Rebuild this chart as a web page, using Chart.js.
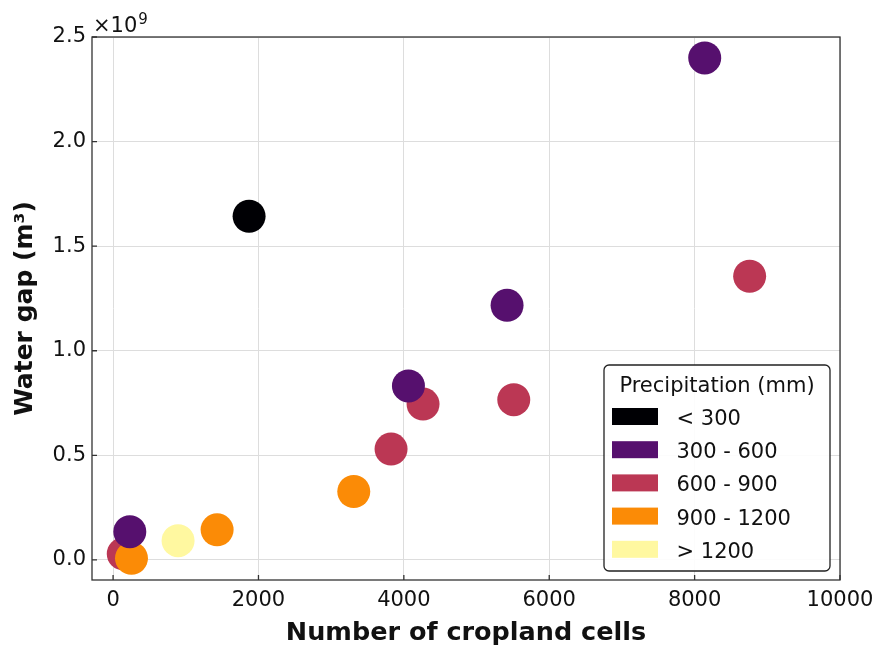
<!DOCTYPE html>
<html>
<head>
<meta charset="utf-8">
<script src="https://cdn.jsdelivr.net/npm/chart.js@4"></script>
<style>
  html, body { margin: 0; padding: 0; background: #fff; }
  #wrap { width: 875px; height: 645px; }
</style>
</head>
<body>
<div id="wrap"><canvas id="gapChart"></canvas></div>
<script>
// * data: precipitation classes
const categories = ["< 300", "300 - 600", "600 - 900", "900 - 1200", "> 1200"];
const classColors = ["#000004", "#56106e", "#bb3754", "#fb8b06", "#fff8a0"];
// cropland cells per class
const cellsLow = [1871];
const cellsMid = [8139, 5420, 4063, 230];
const cellsHigh = [8757, 5512, 4264, 3824, 140];
const cellsWet = [3311, 1431, 253];
const cellsVeryWet = [894];
// water gap (m3) per class
const gapLow = [1.643e9];
const gapMid = [2.4e9, 1.217e9, 0.832e9, 0.135e9];
const gapHigh = [1.356e9, 0.766e9, 0.745e9, 0.53e9, 0.029e9];
const gapWet = [0.327e9, 0.144e9, 0.008e9];
const gapVeryWet = [0.092e9];
// ticks
const xTicks = [0, 2000, 4000, 6000, 8000, 10000];
const yTicks = [0, 0.5e9, 1.0e9, 1.5e9, 2.0e9, 2.5e9];

const allCells = [cellsLow, cellsMid, cellsHigh, cellsWet, cellsVeryWet];
const allGaps = [gapLow, gapMid, gapHigh, gapWet, gapVeryWet];
// ? purple on top, red at the bottom
const drawOrder = [4, 0, 3, 2, 1];

const fontFam = "'DejaVu Sans', sans-serif";

const datasets = categories.map((c, i) => ({
  label: c,
  data: allCells[i].map((x, j) => ({ x: x, y: allGaps[i][j] })),
  backgroundColor: classColors[i],
  borderWidth: 0,
  pointRadius: 16.5,
  pointHoverRadius: 16.5,
  order: drawOrder[i],
}));

// frame, inward ticks, offset text and legend box
const extras = {
  id: "extras",
  afterDatasetsDraw(chart) {
    const ctx = chart.ctx;
    const a = chart.chartArea;
    const xs = chart.scales.x;
    const ys = chart.scales.y;
    ctx.save();
    ctx.strokeStyle = "#333";
    ctx.lineWidth = 1.3;
    ctx.beginPath();
    xTicks.forEach((t) => {
      const px = xs.getPixelForValue(t);
      ctx.moveTo(px, a.bottom);
      ctx.lineTo(px, a.bottom - 5);
    });
    yTicks.forEach((t) => {
      const py = ys.getPixelForValue(t);
      ctx.moveTo(a.left, py);
      ctx.lineTo(a.left + 5, py);
    });
    ctx.stroke();
    ctx.strokeRect(a.left, a.top, a.right - a.left, a.bottom - a.top);

    // offset text
    ctx.fillStyle = "#111";
    ctx.textBaseline = "alphabetic";
    ctx.textAlign = "left";
    ctx.font = "21px " + fontFam;
    ctx.fillText("\u00d710", 93, 32);
    const w = ctx.measureText("\u00d710").width;
    ctx.font = "15px " + fontFam;
    ctx.fillText("9", 93 + w + 1, 24);

    // legend
    const lx = 604, ly = 365, lw = 226, lh = 206;
    ctx.beginPath();
    ctx.roundRect(lx, ly, lw, lh, 5);
    ctx.fillStyle = "rgba(255,255,255,0.9)";
    ctx.fill();
    ctx.strokeStyle = "#222";
    ctx.lineWidth = 1.3;
    ctx.stroke();
    ctx.fillStyle = "#111";
    ctx.font = "21px " + fontFam;
    ctx.textAlign = "center";
    ctx.fillText("Precipitation (mm)", lx + lw / 2, 391.5);
    ctx.textAlign = "left";
    categories.forEach((c, i) => {
      const base = 425 + i * 33.2;
      ctx.fillStyle = classColors[i];
      ctx.fillRect(612, base - 17, 46, 17);
      ctx.fillStyle = "#111";
      ctx.fillText(c, 676.5, base);
    });
    ctx.restore();
  },
};

const gapCanvas = document.getElementById("gapChart").getContext("2d");
const gapChart = new Chart(gapCanvas, {
  type: "scatter",
  data: { datasets: datasets },
  options: {
    responsive: true,
    maintainAspectRatio: false,
    animation: false,
    layout: { padding: { left: 0, right: 35, top: 37, bottom: 0 } },
    plugins: { legend: { display: false }, tooltip: { enabled: false } },
    scales: {
      x: {
        type: "linear",
        min: -290,
        max: 10000,
        afterFit: (s) => {
          s.height = 65;
          s.paddingLeft = 0;
          s.paddingRight = 0;
        },
        afterBuildTicks: (s) => { s.ticks = xTicks.map((v) => ({ value: v })); },
        grid: { color: "#dddddd", lineWidth: 1, drawTicks: false },
        border: { display: false },
        ticks: {
          padding: 8,
          color: "#111",
          font: { family: fontFam, size: 21 },
          maxRotation: 0,
          callback: (v) => String(v),
        },
        title: {
          display: true,
          text: "Number of cropland cells",
          color: "#111",
          font: { family: fontFam, size: 25.5, weight: "bold" },
          padding: { top: 0, bottom: -4 },
        },
      },
      y: {
        type: "linear",
        min: -0.096e9,
        max: 2.5e9,
        afterFit: (s) => {
          s.width = 92;
          s.paddingTop = 0;
          s.paddingBottom = 0;
        },
        afterBuildTicks: (s) => { s.ticks = yTicks.map((v) => ({ value: v })); },
        grid: { color: "#dddddd", lineWidth: 1, drawTicks: false },
        border: { display: false },
        ticks: {
          padding: 6,
          color: "#111",
          font: { family: fontFam, size: 21 },
          callback: (v) => (v / 1e9).toFixed(1),
        },
        title: {
          display: true,
          text: "Water gap (m\u00b3)",
          color: "#111",
          font: { family: fontFam, size: 25, weight: "bold" },
          padding: { top: 10, bottom: 0 },
        },
      },
    },
  },
  plugins: [extras],
});
</script>
</body>
</html>
